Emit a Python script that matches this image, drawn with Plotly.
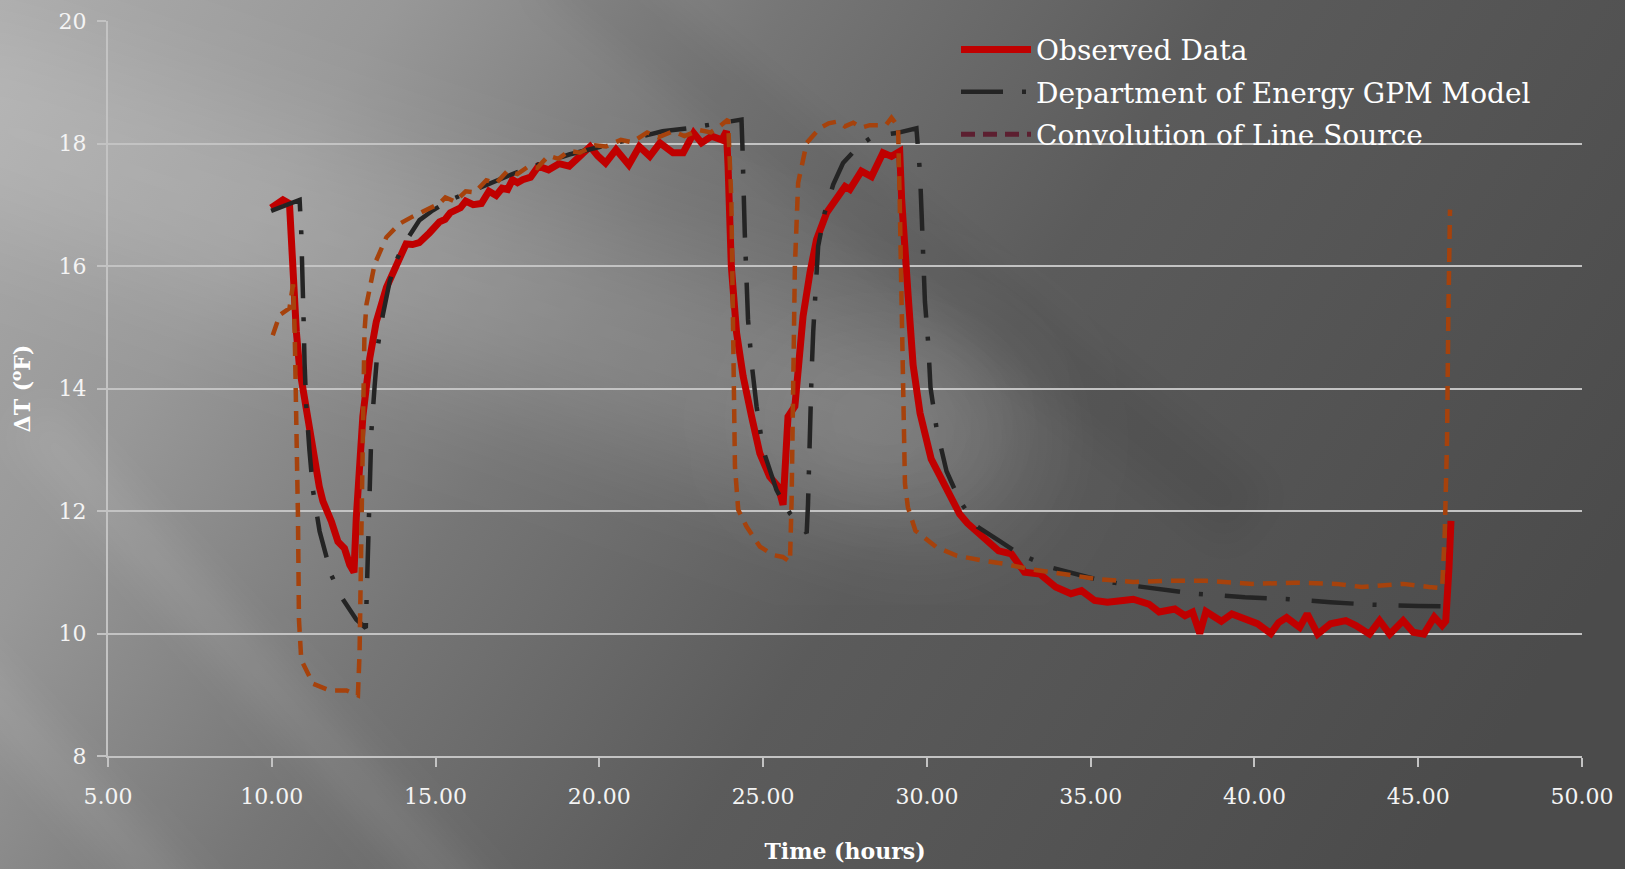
import base64
import plotly.graph_objects as go

# ---------------- data ----------------
obs_x = [9.98, 10.15, 10.34, 10.54, 10.64, 10.75, 10.85, 11.0, 11.15, 11.31, 11.45, 11.56, 11.7, 11.82,
         12.02, 12.15, 12.22, 12.38, 12.51, 12.58, 12.68, 12.78, 12.99, 13.19, 13.5, 13.8, 14.1, 14.3,
         14.5, 14.81, 15.12, 15.29, 15.45, 15.76, 15.92, 16.15, 16.4, 16.63, 16.85, 17.03, 17.2, 17.35,
         17.5, 17.66, 17.9, 18.14, 18.45, 18.77, 19.08, 19.4, 19.72, 19.95, 20.19, 20.51, 20.9, 21.22,
         21.54, 21.85, 22.25, 22.56, 22.88, 23.12, 23.43, 23.74, 23.88, 23.93, 24.03, 24.19, 24.39,
         24.65, 24.9, 25.2, 25.46, 25.61, 25.68, 25.76, 25.97, 26.07, 26.22, 26.43, 26.63, 26.94,
         27.24, 27.5, 27.65, 28.0, 28.31, 28.66, 28.92, 29.17, 29.23, 29.28, 29.43, 29.58, 29.79,
         30.13, 30.5, 30.76, 31.0, 31.24, 31.71, 32.19, 32.58, 32.98, 33.45, 33.93, 34.4, 34.72,
         35.12, 35.51, 35.99, 36.3, 36.78, 37.09, 37.57, 37.88, 38.11, 38.33, 38.52, 38.99, 39.31,
         39.78, 40.09, 40.5, 40.74, 40.98, 41.38, 41.61, 41.93, 42.32, 42.79, 43.1, 43.51, 43.82,
         44.13, 44.54, 44.85, 45.17, 45.49, 45.73, 45.84, 45.94, 46.0]
obs_y = [16.95, 17.0, 17.08, 17.02, 15.75, 14.93, 14.32, 13.82, 13.27, 12.72, 12.4, 12.16, 12.0, 11.83,
         11.5, 11.42, 11.39, 11.12, 11.0, 11.89, 12.72, 13.54, 14.49, 15.09, 15.65, 16.03, 16.36, 16.35,
         16.38, 16.54, 16.72, 16.76, 16.87, 16.95, 17.06, 17.0, 17.02, 17.22, 17.15, 17.27, 17.25, 17.41,
         17.36, 17.41, 17.45, 17.63, 17.57, 17.67, 17.63, 17.79, 17.95, 17.8, 17.68, 17.9, 17.65, 17.95,
         17.79, 18.01, 17.85, 17.85, 18.17, 18.01, 18.12, 18.06, 18.2, 17.63, 15.99, 14.91, 14.2,
         13.54, 12.94, 12.56, 12.4, 12.1, 12.8, 13.54, 13.71, 14.36, 15.18, 15.89, 16.43, 16.87,
         17.08, 17.3, 17.25, 17.55, 17.46, 17.85, 17.79, 17.87, 17.08, 16.59, 15.5, 14.38, 13.6,
         12.85, 12.45, 12.2, 11.95, 11.8, 11.57, 11.35, 11.3, 11.0, 10.97, 10.76, 10.65, 10.7,
         10.54, 10.51, 10.54, 10.56, 10.48, 10.35, 10.4, 10.29, 10.35, 10.0, 10.36, 10.2, 10.32,
         10.24, 10.16, 10.0, 10.18, 10.26, 10.1, 10.32, 9.99, 10.16, 10.21, 10.13, 9.99, 10.21,
         9.99, 10.21, 10.02, 9.99, 10.27, 10.13, 10.2, 11.08, 11.84]

doe_x = [9.98, 10.3, 10.6, 10.85, 10.9, 10.95, 10.97, 11.0, 11.05, 11.15, 11.26, 11.46, 11.82, 12.17,
         12.58, 12.87, 12.89, 12.94, 12.96, 12.99, 13.04, 13.14, 13.24, 13.39, 13.6, 13.8, 14.1,
         14.51, 14.92, 15.45, 16.71, 17.66, 19.08, 20.66, 21.93, 22.72, 23.51, 24.34, 24.37, 24.39,
         24.44, 24.49, 24.54, 24.65, 24.8, 25.0, 25.41, 25.82, 26.33, 26.37, 26.4, 26.43, 26.48,
         26.53, 26.61, 26.68, 26.88, 27.14, 27.44, 27.9, 28.36, 29.07, 29.68, 29.79, 29.84, 29.89,
         29.94, 30.04, 30.11, 30.3, 30.6, 31.0, 31.55, 32.19, 32.82, 33.77, 34.56, 35.35, 36.3,
         37.09, 38.2, 39.71, 41.06, 42.32, 43.59, 45.0, 45.96]
doe_y = [16.9, 16.97, 17.02, 17.08, 16.55, 15.86, 15.15, 14.43, 13.74, 12.99, 12.33, 11.67, 10.95, 10.56,
         10.23, 10.09, 10.48, 11.17, 11.89, 12.55, 13.29, 14.04, 14.7, 15.2, 15.75, 16.09, 16.41,
         16.75, 16.91, 17.08, 17.35, 17.57, 17.82, 18.04, 18.2, 18.25, 18.31, 18.39, 17.93, 17.25,
         16.54, 15.83, 15.12, 14.41, 13.71, 13.0, 12.34, 11.96, 11.64, 12.1, 12.8, 13.49, 14.25,
         14.93, 15.61, 16.32, 16.87, 17.33, 17.68, 17.95, 18.12, 18.17, 18.25, 17.52, 16.84, 16.16,
         15.42, 14.74, 14.02, 13.33, 12.65, 12.17, 11.74, 11.52, 11.3, 11.08, 10.97, 10.86, 10.78,
         10.73, 10.65, 10.59, 10.56, 10.51, 10.47, 10.45, 10.44]

conv_x = [10.03, 10.24, 10.54, 10.65, 10.7, 10.75, 10.8, 10.83, 10.9, 11.26, 11.77, 12.28, 12.63, 12.68,
          12.73, 12.78, 12.83, 12.89, 13.14, 13.5, 13.9, 14.31, 14.72, 15.12, 15.3, 15.6, 15.92, 16.2,
          16.55, 16.85, 17.19, 17.5, 17.82, 18.1, 18.45, 18.75, 19.08, 19.4, 19.87, 20.2, 20.66, 21.0,
          21.46, 21.8, 22.25, 22.6, 23.04, 23.4, 23.67, 23.93, 24.03, 24.08, 24.14, 24.24, 24.49,
          24.9, 25.31, 25.6, 25.82, 25.87, 25.92, 25.97, 26.07, 26.33, 26.73, 27.0, 27.29, 27.5,
          27.75, 28.0, 28.26, 28.56, 28.75, 28.92, 29.12, 29.17, 29.23, 29.28, 29.33, 29.42, 29.65,
          30.29, 30.92, 31.71, 32.35, 33.14, 34.09, 35.2, 36.3, 37.25, 38.52, 39.94, 41.22, 42.5,
          43.27, 44.55, 45.33, 45.73, 45.81, 45.88, 45.92, 45.97]
conv_y = [14.87, 15.2, 15.31, 15.7, 14.93, 13.54, 11.89, 10.23, 9.57, 9.18, 9.07, 9.07, 8.99, 9.68,
          11.33, 12.99, 14.93, 15.37, 16.03, 16.47, 16.69, 16.81, 16.91, 17.02, 17.12, 17.05, 17.22, 17.2,
          17.4, 17.35, 17.55, 17.5, 17.62, 17.6, 17.8, 17.75, 17.88, 17.85, 17.97, 17.95, 18.06, 18.02,
          18.18, 18.1, 18.2, 18.12, 18.22, 18.18, 18.28, 18.39, 17.08, 14.9, 12.73, 12.02, 11.75,
          11.42, 11.28, 11.25, 11.17, 12.18, 13.82, 15.99, 17.36, 18.01, 18.25, 18.33, 18.36, 18.28,
          18.34, 18.26, 18.3, 18.3, 18.3, 18.42, 18.28, 17.08, 15.45, 13.82, 12.45, 12.06, 11.68,
          11.41, 11.27, 11.19, 11.14, 11.05, 10.97, 10.89, 10.84, 10.86, 10.86, 10.81, 10.83, 10.81,
          10.76, 10.81, 10.76, 10.74, 11.63, 13.15, 15.23, 16.92]

series_names = ["Observed Data", "Department of Energy GPM Model", "Convolution of Line Source"]
x_ticks = [5, 10, 15, 20, 25, 30, 35, 40, 45, 50]
y_ticks = [8, 10, 12, 14, 16, 18, 20]

# ---------------- background (styling only) ----------------
W, H = 1625, 869
L, R, T, B = 108, 43, 21, 113
pw, ph = W - L - R, H - T - B

svg = f"""<svg xmlns='http://www.w3.org/2000/svg' width='{W}' height='{H}' viewBox='0 0 {W} {H}' preserveAspectRatio='none'>
<defs>
<linearGradient id='base' gradientUnits='userSpaceOnUse' x1='0' y1='0' x2='1400' y2='900'>
<stop offset='0' stop-color='#ababab'/>
<stop offset='0.2' stop-color='#989898'/>
<stop offset='0.4' stop-color='#767676'/>
<stop offset='0.62' stop-color='#5b5b5b'/>
<stop offset='1' stop-color='#4b4b4b'/>
</linearGradient>
<filter id='blur' x='-50%' y='-50%' width='200%' height='200%'>
<feGaussianBlur stdDeviation='55'/>
</filter>
<filter id='blur2' x='-50%' y='-50%' width='200%' height='200%'>
<feGaussianBlur stdDeviation='18'/>
</filter>
</defs>
<rect width='{W}' height='{H}' fill='url(#base)'/>
<line x1='-50' y1='110' x2='930' y2='440' stroke='#ffffff' stroke-opacity='0.15' stroke-width='190' stroke-linecap='round' filter='url(#blur)'/>
<ellipse cx='880' cy='420' rx='110' ry='70' fill='#ffffff' fill-opacity='0.09' filter='url(#blur)'/>
<line x1='30' y1='420' x2='520' y2='960' stroke='#ffffff' stroke-opacity='0.08' stroke-width='50' filter='url(#blur2)'/>
<line x1='-60' y1='640' x2='260' y2='990' stroke='#ffffff' stroke-opacity='0.08' stroke-width='45' filter='url(#blur2)'/>
<line x1='560' y1='-40' x2='1250' y2='520' stroke='#000000' stroke-opacity='0.06' stroke-width='70' filter='url(#blur2)'/>
</svg>"""
bg_uri = "data:image/svg+xml;base64," + base64.b64encode(svg.encode()).decode()

FONT = "DejaVu Serif"
ITEMW = 70

fig = go.Figure()
fig.add_trace(go.Scatter(x=obs_x, y=obs_y, mode="lines", name=series_names[0],
                         line=dict(color="#c00000", width=7), legendgroup="a"))
fig.add_trace(go.Scatter(x=doe_x, y=doe_y, mode="lines", name=series_names[1],
                         line=dict(color="#242424", width=4.5, dash="42px,19px,4px,22px"), legendgroup="b"))
fig.add_trace(go.Scatter(x=conv_x, y=conv_y, mode="lines", name=series_names[2], showlegend=False,
                         line=dict(color="#a6420c", width=4.5, dash="14px,9px"), legendgroup="c"))
# legend swatch of the convolution series uses a different (maroon) colour in the reference
fig.add_trace(go.Scatter(x=[None], y=[None], mode="lines", name=series_names[2],
                         line=dict(color="#5c1f30", width=5, dash="14px,8px"), legendgroup="c"))

grid_c = "#c3c3c3"
fig.update_layout(
    width=W, height=H,
    margin=dict(l=L, r=R, t=T, b=B, pad=0),
    paper_bgcolor="#6e6e6e",
    plot_bgcolor="rgba(0,0,0,0)",
    images=[dict(source=bg_uri, xref="paper", yref="paper",
                 x=-L / pw, y=1 + T / ph, sizex=W / pw, sizey=H / ph,
                 xanchor="left", yanchor="top", sizing="stretch", layer="below")],
    font=dict(family=FONT, color="#f4f4f4"),
    showlegend=True,
    legend=dict(x=(996 - (ITEMW - 30) - L) / pw, y=0.995, xanchor="left", yanchor="top",
                bgcolor="rgba(0,0,0,0)", borderwidth=0, itemwidth=ITEMW,
                font=dict(family=FONT, size=28, color="#ffffff"),
                traceorder="grouped", tracegroupgap=3),
    xaxis=dict(range=[5, 50], tickvals=x_ticks, ticktext=[f"{v:.2f}" for v in x_ticks],
               showgrid=False, zeroline=False, showline=True, linecolor=grid_c, linewidth=2,
               ticks="outside", ticklen=9, tickwidth=1.5, tickcolor=grid_c,
               tickfont=dict(family=FONT, size=22, color="#f4f4f4"), ticklabelstandoff=11,
               title=dict(text="Time (hours)", standoff=35,
                          font=dict(family=FONT, size=22, color="#ffffff", weight="bold")),
               automargin=False),
    yaxis=dict(range=[8, 20], tickvals=y_ticks,
               showgrid=True, gridcolor=grid_c, gridwidth=2, zeroline=False,
               showline=True, linecolor=grid_c, linewidth=2,
               ticks="outside", ticklen=9, tickwidth=2, tickcolor=grid_c,
               tickfont=dict(family=FONT, size=22, color="#f4f4f4"), ticklabelstandoff=6,
               title=dict(text="ΔT (<sup>o</sup>F)", standoff=22,
                          font=dict(family=FONT, size=22, color="#ffffff", weight="bold")),
               automargin=False),
)

fig.write_html("out.html")
